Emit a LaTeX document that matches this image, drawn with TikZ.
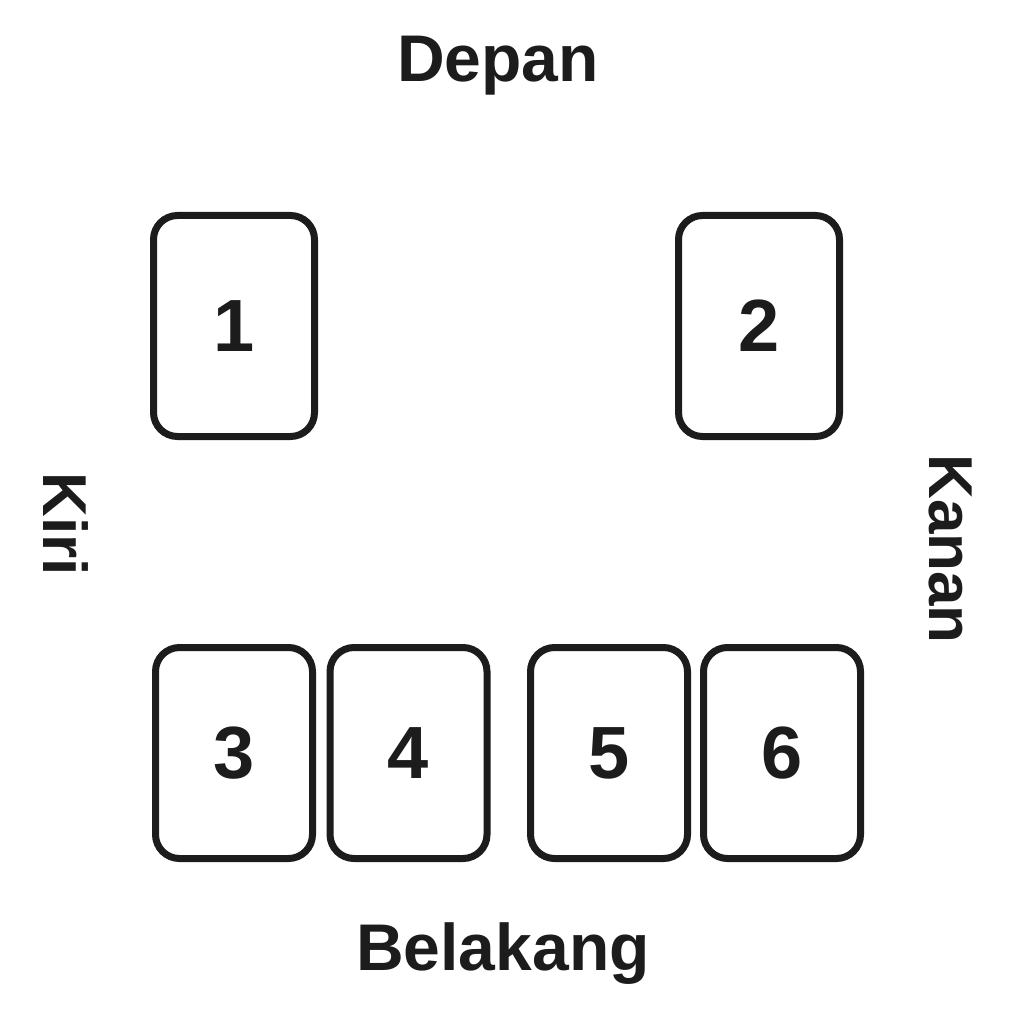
\documentclass[tikz,border=0pt]{standalone}
\usepackage{fontspec}
\setmainfont{Liberation Sans}
\definecolor{ink}{HTML}{1C1C1C}
\begin{document}
\begin{tikzpicture}[x=1pt,y=-1pt,
  card/.style={draw=ink,line width=7pt,rounded corners=24pt,fill=white,inner sep=0pt},
  topcard/.style={card,minimum width=161pt,minimum height=221pt},
  botcard/.style={card,minimum width=157pt,minimum height=211pt},
  num/.style={text=ink,font=\fontsize{74}{74}\selectfont\bfseries},
  lbl/.style={text=ink,font=\fontsize{66}{66}\selectfont\bfseries,anchor=base,inner sep=0pt},
  side/.style={text=ink,font=\fontsize{62}{62}\selectfont\bfseries,anchor=base,inner sep=0pt,rotate=-90}]
\useasboundingbox[fill=white] (0,0) rectangle (1024,1024);
\node[topcard] (c1) at (234,326) {};
\node[topcard] (c2) at (759,326) {};
\node[botcard] (c3) at (234,753) {};
\node[botcard] (c4) at (408.5,753) {};
\node[botcard] (c5) at (609,753) {};
\node[botcard] (c6) at (782,753) {};
\node[num] (n1) at (c1.center) {1};
\node[num] (n2) at (c2.center) {2};
\node[num] (n3) at (c3.center) {3};
\node[num] (n4) at (c4.center) {4};
\node[num] (n5) at (c5.center) {5};
\node[num] (n6) at (c6.center) {6};
\node[lbl] (depan) at (498,82) {Depan};
\node[lbl] (belakang) at (503,970) {Belakang};
\node[side] (kiri) at (43,524) {Kiri};
\node[side] (kanan) at (929,549) {Kanan};
\end{tikzpicture}
\end{document}
